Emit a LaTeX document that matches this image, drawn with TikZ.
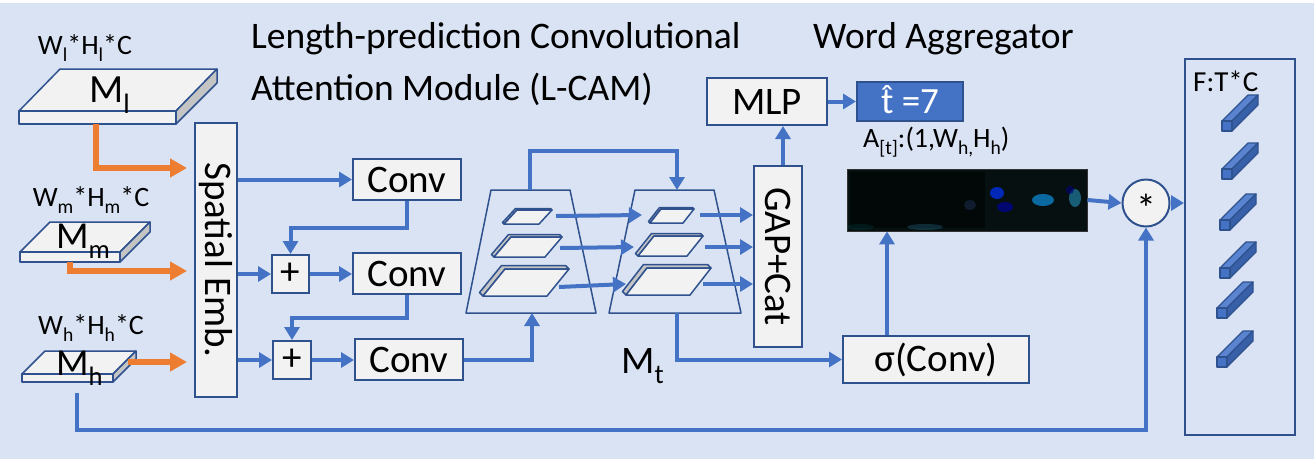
\documentclass[tikz,border=0pt]{standalone}
\usepackage{fontspec}
\usepackage{graphicx}
\setmainfont{Carlito}
\usetikzlibrary{arrows.meta,calc}
\definecolor{bg}{HTML}{DAE3F3}
\definecolor{boxfill}{HTML}{F2F2F2}
\definecolor{bord}{HTML}{2F528F}
\definecolor{blu}{HTML}{4472C4}
\definecolor{orng}{HTML}{ED7D31}
\definecolor{sidegray}{HTML}{C4C4C4}
\definecolor{bartop}{HTML}{5A84CF}
\definecolor{barside}{HTML}{3760A8}
\newcommand\sbx[1]{\raisebox{-0.28em}{\scalebox{0.7}{#1}}}
\newcommand\fsz[1]{\fontsize{#1}{#1}\selectfont}
\newcommand\hatt{\ooalign{t\cr\hidewidth\raisebox{0.07em}{ˆ}\hidewidth\cr}}
\newcommand\trayplate[6]{%
  \filldraw[plateline, fill=sidegray] (#1,#2) -- ++(-#6,-#6) -- ++(#4,-#5) -- ++(#3,0) -- ++(#6,#6) -- ++(-#3,0) -- cycle;
  \filldraw[plateline, fill=boxfill] (#1,#2) -- ++(#3,0) -- ++(#4,-#5) -- ++(-#3,0) -- cycle;}
\newcommand\fbar[2]{%
  \filldraw[barline, fill=bartop] (#1,#2-10) -- ++(10,0) -- ++(26,-26) -- ++(-10,0) -- cycle;
  \filldraw[barline, fill=barside] (#1+10,#2) -- ++(0,-10) -- ++(26,-26) -- ++(0,10) -- cycle;
  \filldraw[barline, fill=blu] (#1,#2-10) rectangle (#1+10,#2);}
\begin{document}
\begin{tikzpicture}[x=1pt,y=-1pt,
  box/.style={draw=bord, fill=boxfill, line width=2pt, inner sep=0pt, font=\fsz{39}},
  plateline/.style={draw=bord, line width=1.5pt, line join=round},
  barline/.style={draw=bord, line width=1.2pt, line join=round},
  lbl/.style={inner sep=0pt, font=\fsz{37.5}},
  small/.style={inner sep=0pt, font=\fsz{28}},
  conn/.style={draw=blu, line width=4pt, -{Triangle[length=13pt,width=15pt]}},
  oconn/.style={draw=orng, line width=5.5pt, -{Triangle[length=17pt,width=18pt]}}]
\useasboundingbox (0,0) rectangle (1314,459);
\fill[white] (0,0) rectangle (1314,459);
\fill[bg] (0,3) rectangle (1314,459);

% titles
\node[lbl, anchor=base west] (title1) at (251,48) {Length-prediction Convolutional};
\node[lbl, anchor=base west] (title2) at (251,100) {Attention Module (L-CAM)};
\node[lbl, anchor=base west] (title3) at (813,48) {Word Aggregator};

% input plates
\filldraw[plateline, fill=boxfill] (60,69) -- (217,69) -- (176,111) -- (19,111) -- cycle;
\filldraw[plateline, fill=boxfill] (19,111) rectangle (176,124);
\filldraw[plateline, fill=sidegray] (176,111) -- (217,69) -- (217,83) -- (176,124) -- cycle;
\filldraw[plateline, fill=boxfill] (50,222) -- (150,222) -- (120,252) -- (20,252) -- cycle;
\filldraw[plateline, fill=boxfill] (20,252) rectangle (120,262);
\filldraw[plateline, fill=sidegray] (120,252) -- (150,222) -- (150,232) -- (120,262) -- cycle;
\filldraw[plateline, fill=boxfill] (45,351) -- (136,351) -- (113,374) -- (22,374) -- cycle;
\filldraw[plateline, fill=boxfill] (22,374) rectangle (113,382);
\filldraw[plateline, fill=sidegray] (113,374) -- (136,351) -- (136,359) -- (113,382) -- cycle;
\node[inner sep=0pt, font=\fsz{40}, anchor=base west] (Ml) at (89,102) {M\sbx{l}};
\node[inner sep=0pt, font=\fsz{38}, anchor=base west] (Mm) at (56,248) {M\sbx{m}};
\node[inner sep=0pt, font=\fsz{38}, anchor=base west] (Mh) at (56,375) {M\sbx{h}};
\node[small] (dl) at (85,48) {W\sbx{l}*H\sbx{l}*C};
\node[small] (dm) at (91,200) {W\sbx{m}*H\sbx{m}*C};
\node[small] (dh) at (91,328) {W\sbx{h}*H\sbx{h}*C};
\coordinate (Mlout) at (96,124);
\coordinate (Mmout) at (70,262);
\coordinate (Mhout) at (128,362);
\coordinate (Mhdown) at (77,393);
\coordinate (oe1) at (187,168);
\coordinate (oe2) at (187,271);
\coordinate (oe3) at (187,362);

% spatial embedding
\node[box, minimum width=42pt, minimum height=274pt] (SE) at (216,260) {};
\node[lbl, rotate=-90, font=\fsz{39}] (SEt) at (SE.center) {Spatial Emb.};

% convs
\node[box, minimum width=108pt, minimum height=41pt] (conv1) at (407,179.5) {Conv};
\node[box, minimum width=37pt, minimum height=38pt] (plus1) at (290.5,274) {+};
\node[box, minimum width=108pt, minimum height=41pt] (conv2) at (407,273.5) {Conv};
\node[box, minimum width=38pt, minimum height=38pt] (plus2) at (292,360) {+};
\node[box, minimum width=108pt, minimum height=41pt] (conv3) at (409,359.5) {Conv};

% trapezoids
\draw[plateline] (466,313) -- (596,313) -- (570,190) -- (491,190) -- cycle;
\draw[plateline] (609,313) -- (741,313) -- (714,190) -- (635,190) -- cycle;
\trayplate{504}{224}{35}{13}{14}{1.5}
\trayplate{494}{257}{51}{17}{20}{2.5}
\trayplate{483}{296}{64}{22}{27}{3.5}
\trayplate{650}{223}{33}{11}{14}{1.5}
\trayplate{638}{256}{49}{16}{20}{2.5}
\trayplate{626}{295}{64}{21}{27}{3.5}
\coordinate (t1b) at (532,313);
\coordinate (t1t) at (530,190);
\coordinate (t2t) at (677,190);
\coordinate (t2b) at (677,313);
\coordinate (p1a) at (556,216); \coordinate (p1b) at (642,215);
\coordinate (p2a) at (560,248); \coordinate (p2b) at (634,247);
\coordinate (p3a) at (559,287); \coordinate (p3b) at (626,284);
\coordinate (q1a) at (700,215);
\coordinate (q2a) at (705,247);
\coordinate (q3a) at (703,284);
\node[inner sep=0pt, font=\fsz{39}, anchor=base west] (Mt) at (621,373) {M\sbx{t}};

% right part
\node[box, minimum width=48pt, minimum height=181pt] (gap) at (778,256.5) {};
\node[lbl, rotate=-90, font=\fsz{39}] (gapt) at (gap.center) {GAP+Cat};
\node[box, minimum width=120pt, minimum height=47pt] (mlp) at (767,101.5) {MLP};
\node[draw=bord, fill=blu, line width=2pt, minimum width=106pt, minimum height=39pt, inner sep=0pt, text=white, font=\fsz{37}] (that) at (910,101.5) {\hatt\ =7};
\node[inner sep=0pt, font=\fsz{28}, anchor=base west] (alab) at (863,147) {A\sbx{[t]}:(1,W\sbx{h,}H\sbx{h})};
\node[draw=black!80, fill={rgb,255:red,6;green,16;blue,16}, minimum width=240pt, minimum height=62pt, inner sep=0pt, line width=0.8pt] (att) at (967,200) {};
\begin{scope}
\clip (847,169) rectangle (1087,231);
\fill[black, opacity=0.5] (850,172) rectangle (985,228);
\fill[blu!60!black, opacity=0.35] (970,205) ellipse (6 and 5);
\fill[blue!80!cyan, opacity=0.7] (997,193) ellipse (7 and 6);
\fill[blue!70!black, opacity=0.6] (1005,207) ellipse (8 and 5);
\fill[cyan!70!blue, opacity=0.75] (1043,200) ellipse (11 and 6);
\fill[cyan!60!teal, opacity=0.55] (1075,198) ellipse (6 and 9);
\fill[blue!50!black, opacity=0.6] (1070,190) ellipse (4 and 4);
\fill[cyan!50!teal, opacity=0.25] (925,227) ellipse (18 and 3);
\fill[teal, opacity=0.15] (860,227) ellipse (14 and 3);
\end{scope}
\node[box, minimum width=186pt, minimum height=47pt] (sig) at (936,359.5) {σ(Conv)};
\node[draw=bord, fill=boxfill, line width=2pt, circle, minimum size=47pt, inner sep=0pt] (mul) at (1146,203) {};
\node[inner sep=0pt, font=\fsz{40}] (mult) at (1146,208) {*};
\node[draw=bord, line width=2pt, minimum width=110pt, minimum height=376pt, inner sep=0pt] (F) at (1240,247) {};
\node[inner sep=0pt, font=\fsz{29}, anchor=base west] (Ft) at (1193,91) {F:T*C};
\fbar{1222}{131}
\fbar{1222}{179}
\fbar{1220}{230}
\fbar{1220}{278}
\fbar{1217}{318}
\fbar{1217}{367}

% orange arrows
\draw[oconn] (Mlout) |- (oe1);
\draw[oconn] (Mmout) |- (oe2);
\draw[oconn] (Mhout) -- (oe3);

% blue connectors
\draw[conn] (SE.east |- conv1.west) -- (conv1.west);
\draw[conn] (conv1.south) -- ++(0,27) -| (plus1.north);
\draw[conn] (SE.east |- plus1.west) -- (plus1.west);
\draw[conn] (plus1.east) -- (plus1.east -| conv2.west);
\draw[conn] (conv2.south) -- ++(0,23) -| (plus2.north);
\draw[conn] (SE.east |- plus2.west) -- (plus2.west);
\draw[conn] (plus2.east) -- (plus2.east -| conv3.west);
\draw[conn] (conv3.east) -| (t1b);
\draw[conn] (t1t) -- ++(0,-39) -| (t2t);
\draw[conn] (p1a) -- (p1b);
\draw[conn] (p2a) -- (p2b);
\draw[conn] (p3a) -- (p3b);
\draw[conn] (q1a) -- (q1a -| gap.west);
\draw[conn] (q2a) -- (q2a -| gap.west);
\draw[conn] (q3a) -- (q3a -| gap.west);
\draw[conn] (t2b) |- (sig.west);
\draw[conn] ([xshift=5pt]gap.north) -- ([xshift=5pt]gap.north |- mlp.south);
\draw[conn] (mlp.east) -- (that.west);
\draw[conn] ([xshift=-49pt]sig.north) -- ([xshift=-49pt]sig.north |- att.south);
\draw[conn] (att.east) -- (mul.west);
\draw[conn] (mul.east) -- (mul.east -| F.west);
\draw[conn] (Mhdown) -- ++(0,37) -| (mul.south);
\end{tikzpicture}
\end{document}
